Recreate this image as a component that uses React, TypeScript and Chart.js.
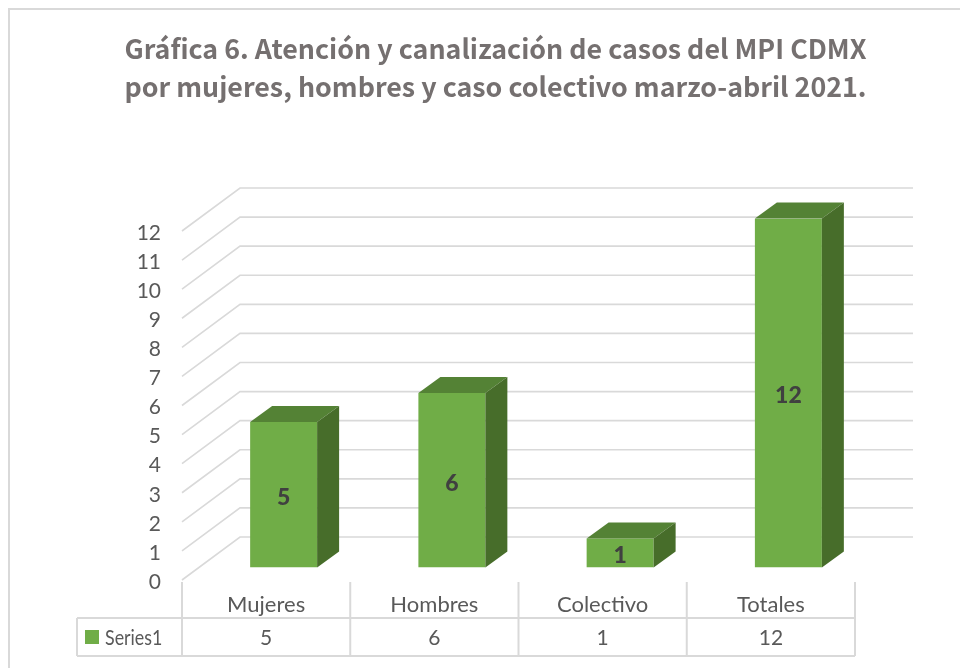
import React, { useEffect, useRef } from "react";
import { Chart, registerables } from "chart.js";

Chart.register(...registerables);

const categories = ["Mujeres", "Hombres", "Colectivo", "Totales"];
const seriesName = "Series1";
const seriesValues = [5, 6, 1, 12];
const yTicks = [0, 12];
const titleLines = [
  "Gráfica 6. Atención y canalización de casos del MPI CDMX",
  "por mujeres, hombres y caso colectivo marzo-abril 2021.",
];

const GRID = "#d9d9d9";
const TEXT = "#595959";
const FONT = "Lato, 'Open Sans', sans-serif";
const TITLE_FONT = "'Noto Sans CJK SC', 'Noto Sans', sans-serif";
const WALL = { dx: 58, dy: -43 };
const BAR_SHIFT = { dx: 17.5, dy: -12.5 };
const BAR_DEPTH = { dx: 22, dy: -16 };

const scene3d = {
  id: "scene3d",
  afterLayout(chart: any) {
    chart.titleBlock.left = 31;
    chart.titleBlock.right = 960;
  },
  beforeDraw(chart: any) {
    const { ctx } = chart;
    ctx.save();
    ctx.strokeStyle = GRID;
    ctx.lineWidth = 2;
    ctx.strokeRect(9, 9, 1000, 1000);
    ctx.restore();
  },
  beforeDatasetsDraw(chart: any) {
    const { ctx, chartArea, scales } = chart;
    const y = scales.y;
    ctx.save();
    ctx.strokeStyle = GRID;
    ctx.lineWidth = 1.6;
    y.ticks.forEach((t: any) => {
      const py = y.getPixelForValue(t.value);
      ctx.beginPath();
      ctx.moveTo(chartArea.left, py);
      ctx.lineTo(chartArea.left + WALL.dx, py + WALL.dy);
      ctx.lineTo(chartArea.right + WALL.dx, py + WALL.dy);
      ctx.stroke();
    });
    ctx.restore();
  },
  beforeDatasetDraw(chart: any) {
    chart.ctx.save();
    chart.ctx.translate(BAR_SHIFT.dx, BAR_SHIFT.dy);
  },
  afterDatasetDraw(chart: any, args: any) {
    const { ctx } = chart;
    const meta = chart.getDatasetMeta(args.index);
    meta.data.forEach((bar: any, i: number) => {
      const l = bar.x - bar.width / 2;
      const r = bar.x + bar.width / 2;
      const t = bar.y;
      const b = bar.base;
      const { dx, dy } = BAR_DEPTH;
      ctx.fillStyle = "#548235";
      ctx.beginPath();
      ctx.moveTo(l, t);
      ctx.lineTo(l + dx, t + dy);
      ctx.lineTo(r + dx, t + dy);
      ctx.lineTo(r, t);
      ctx.closePath();
      ctx.fill();
      ctx.fillStyle = "#476D2A";
      ctx.beginPath();
      ctx.moveTo(r, t);
      ctx.lineTo(r + dx, t + dy);
      ctx.lineTo(r + dx, b + dy);
      ctx.lineTo(r, b);
      ctx.closePath();
      ctx.fill();
      ctx.fillStyle = "#404040";
      ctx.font = `900 23px ${FONT}`;
      ctx.textAlign = "center";
      ctx.textBaseline = "middle";
      ctx.fillText(String(seriesValues[i]), bar.x, (t + b) / 2 + 3);
    });
    ctx.restore();
  },
  afterDraw(chart: any) {
    const { ctx, chartArea, scales } = chart;
    const x = scales.x;
    const step = (chartArea.right - chartArea.left) / categories.length;
    const rowTop = 618;
    const rowBottom = 656;
    const legendLeft = 77;
    ctx.save();
    ctx.strokeStyle = GRID;
    ctx.lineWidth = 2;
    ctx.beginPath();
    ctx.moveTo(legendLeft, rowTop);
    ctx.lineTo(chartArea.right, rowTop);
    ctx.moveTo(legendLeft, rowBottom);
    ctx.lineTo(chartArea.right, rowBottom);
    ctx.moveTo(legendLeft, rowTop);
    ctx.lineTo(legendLeft, rowBottom);
    for (let i = 0; i <= categories.length; i++) {
      const px = chartArea.left + i * step;
      ctx.moveTo(px, chartArea.bottom + 2);
      ctx.lineTo(px, rowBottom);
    }
    ctx.stroke();
    ctx.fillStyle = "#70AD47";
    ctx.fillRect(85, 630, 14, 14);
    ctx.fillStyle = TEXT;
    ctx.font = `21px ${FONT}`;
    ctx.textBaseline = "middle";
    ctx.textAlign = "left";
    ctx.save();
    ctx.translate(105, 638);
    ctx.scale(0.85, 1);
    ctx.fillText(seriesName, 0, 0);
    ctx.restore();
    ctx.textAlign = "center";
    seriesValues.forEach((v, i) => {
      ctx.fillText(String(v), x.getPixelForValue(i), 638);
    });
    ctx.restore();
  },
};

export default function App() {
  const ref = useRef<HTMLCanvasElement>(null);
  useEffect(() => {
    const chart = new Chart(ref.current as HTMLCanvasElement, {
      type: "bar",
      data: {
        labels: categories,
        datasets: [
          {
            label: seriesName,
            data: seriesValues,
            backgroundColor: "#70AD47",
            borderWidth: 0,
            barPercentage: 0.398,
            categoryPercentage: 1,
          },
        ],
      },
      options: {
        animation: false,
        responsive: false,
        layout: { padding: { left: 0, right: 105, top: 0, bottom: 0 } },
        plugins: {
          legend: { display: false },
          tooltip: { enabled: false },
          title: {
            display: true,
            text: titleLines,
            color: "#757070",
            font: { family: TITLE_FONT, size: 26.8, weight: "bold", lineHeight: 38 / 26.8 },
            padding: { top: 30, bottom: 125 },
          },
        },
        scales: {
          x: {
            afterFit(s: any) {
              s.height = 88;
            },
            grid: { display: false },
            border: { display: false },
            ticks: { color: TEXT, font: { family: FONT, size: 22 }, padding: 4, maxRotation: 0, autoSkip: false },
          },
          y: {
            min: yTicks[0],
            max: yTicks[1],
            afterFit(s: any) {
              s.width = 182;
            },
            grid: { display: false },
            border: { display: false },
            ticks: { stepSize: 1, color: TEXT, font: { family: FONT, size: 21 }, padding: 13, labelOffset: 2, autoSkip: false },
          },
        },
      },
      plugins: [scene3d],
    } as any);
    return () => chart.destroy();
  }, []);
  return (
    <div style={{ position: "absolute", left: 0, top: 0, width: 960, height: 668, background: "#fff" }}>
      <canvas ref={ref} width={960} height={668} style={{ display: "block" }} />
    </div>
  );
}
